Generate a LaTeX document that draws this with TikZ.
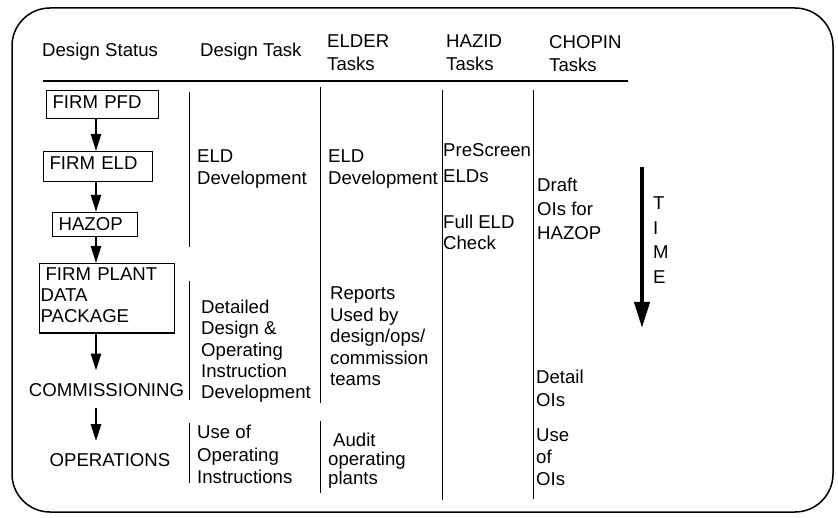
\documentclass[tikz,border=0pt]{standalone}
\usepackage{fontspec}
\setmainfont{Liberation Sans}
\usetikzlibrary{arrows.meta}

\begin{document}
\begin{tikzpicture}[x=1pt, y=-1pt,
  lbl/.style={anchor=north west, inner sep=0pt, align=left, font=\fontsize{18.6}{#1}\selectfont},
  lbl/.default=21,
  stbox/.style={draw, line width=1.2pt, anchor=north west, inner ysep=5pt, align=left, font=\fontsize{18.6}{21}\selectfont},
  sttxt/.style={inner xsep=0pt, inner ysep=12pt, text height=13.4pt, text depth=0pt, font=\fontsize{18.6}{21}\selectfont},
  flow/.style={line width=2.5pt, -{Triangle[length=17pt,width=10pt]}},
  sep/.style={line width=1pt}]
  \useasboundingbox (0,0) rectangle (838,518);
  % Frame
  \draw[line width=1.5pt, rounded corners=38pt] (12,8) rectangle (833,512);
  % Headings
  \node[lbl] (hstatus) at (42,43) {Design Status};
  \node[lbl] (htask) at (200,43) {Design Task};
  \node[lbl=23] (helder) at (327,35) {ELDER\\Tasks};
  \node[lbl=23] (hhazid) at (446,35) {HAZID\\Tasks};
  \node[lbl=23] (hchopin) at (549,35) {CHOPIN\\Tasks};
  \draw[line width=1.2pt] (43,81) -- (628,81);
  % Column rules
  \draw[sep] (189,92) -- (189,247);
  \draw[sep] (189,281) -- (189,400);
  \draw[sep] (189,423) -- (189,483);
  \draw[sep] (320,87) -- (320,403);
  \draw[sep] (320,421) -- (320,493);
  \draw[sep] (442,90) -- (442,500);
  \draw[sep] (533,90) -- (533,499);
  % Design status
  \node[stbox, text width=100pt, inner xsep=6pt, text depth=5pt] (pfd) at (46,90) {FIRM PFD};
  \node[stbox, text width=97pt, inner xsep=6pt, text depth=7pt] (eld) at (43,151) {FIRM ELD};
  \node[stbox, text width=73pt, inner xsep=6pt, text depth=1pt] (hazop) at (52,212) {HAZOP};
  \node[stbox, text width=133pt, inner xsep=1pt, inner ysep=4pt] (plant) at (39,263) {\hspace*{5pt}FIRM PLANT\\DATA\\PACKAGE\rule[-6.7pt]{0pt}{6.7pt}};
  \node[sttxt] (comm) at (106.5,389.5) {COMMISSIONING};
  \node[sttxt] (ops) at (110,460) {OPERATIONS};
  \coordinate (spine) at (96,0);
  \draw[flow] (pfd.south -| spine) -- (eld.north -| spine);
  \draw[flow] (eld.south -| spine) -- (hazop.north -| spine);
  \draw[flow] (hazop.south -| spine) -- (plant.north -| spine);
  \draw[flow] (plant.south -| spine) -- (comm.north -| spine);
  \draw[flow] (comm.south -| spine) -- (ops.north -| spine);
  % Design task
  \node[lbl=22] (task1) at (197,150) {ELD\\Development};
  \node[lbl=21.25] (task2) at (201,300) {Detailed\\Design \&\\Operating\\Instruction\\Development};
  \node[lbl=22.5] (task3) at (197,425) {Use of\\Operating\\Instructions};
  % ELDER tasks
  \node[lbl=22] (elder1) at (328,150) {ELD\\Development};
  \node[lbl=21.5] (elder2) at (330,287) {Reports\\Used by\\design/ops/\\commission\\teams};
  \node[lbl=19] (elder3) at (328,433) {\hspace*{5pt}Audit\\operating\\plants};
  % HAZID tasks
  \node[lbl=26.5] (hazid1) at (443,143) {PreScreen\\ELDs};
  \node[lbl] (hazid2) at (443,215) {Full ELD\\Check};
  % CHOPIN tasks
  \node[lbl=24] (chopin1) at (537,178) {Draft\\OIs for\\HAZOP};
  \node[lbl=23] (chopin2) at (536,370) {Detail\\OIs};
  \node[lbl=22] (chopin3) at (536,429) {Use\\of\\OIs};
  % Time
  \coordinate (tstart) at (642,167);
  \coordinate (tend) at (642,328);
  \draw[line width=4pt, -{Triangle[length=26pt,width=15pt]}] (tstart) -- (tend);
  \node[lbl=24.5] (time) at (653,197) {T\\I\\M\\E};
\end{tikzpicture}
\end{document}
